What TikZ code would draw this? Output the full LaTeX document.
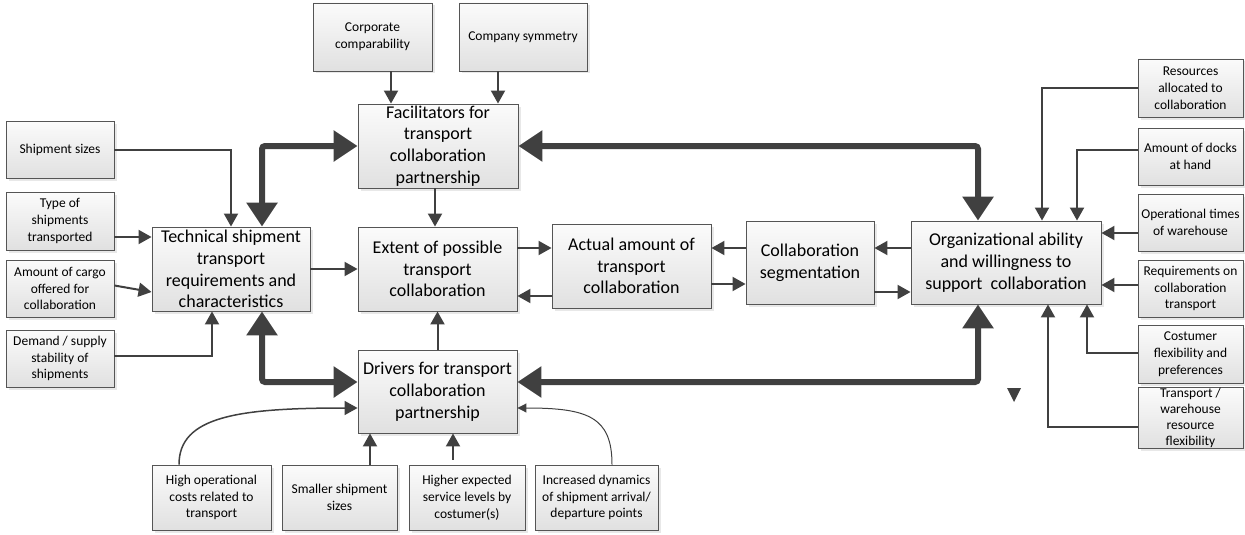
\documentclass[tikz,border=0pt]{standalone}
\usepackage{fontspec}
\setmainfont{Carlito}
\usetikzlibrary{arrows.meta,shadows}
\definecolor{ink}{HTML}{404040}
\definecolor{frame}{HTML}{555555}

\begin{document}
\begin{tikzpicture}[x=1pt,y=-1pt,
  box/.style={draw=frame, line width=0.9pt, top color=gray!3, bottom color=gray!24,
    align=center, inner sep=1pt,
    drop shadow={shadow xshift=2.5pt, shadow yshift=-2.5pt, fill=gray!35, opacity=0.5}},
  bigbox/.style={box, font=\fontsize{18}{21.8}\selectfont},
  smallbox/.style={box, font=\fontsize{13.5}{16.8}\selectfont},
  arr/.style={draw=ink, line width=2pt, -{Triangle[length=13pt,width=14pt]}},
  thk/.style={draw=ink, line width=6pt, rounded corners=3pt,
    {Triangle[length=24pt,width=30pt]}-{Triangle[length=24pt,width=30pt]}},
  thinarr/.style={draw=ink, line width=1pt, -{Triangle[length=9pt,width=9pt]}}]

\useasboundingbox (0,0) rectangle (1245,535);

% left inputs
\node[smallbox, minimum width=108pt, minimum height=57pt] (ship) at (60,149.5) {Shipment sizes};
\node[smallbox, minimum width=108pt, minimum height=58pt] (type) at (60,221) {Type of\\shipments\\transported};
\node[smallbox, minimum width=108pt, minimum height=57pt] (cargo) at (60,288.5) {Amount of cargo\\offered for\\collaboration};
\node[smallbox, minimum width=108pt, minimum height=57pt] (demand) at (60,358.5) {Demand / supply\\stability of\\shipments};

% top inputs
\node[smallbox, minimum width=119pt, minimum height=68pt] (corp) at (372.5,37) {Corporate\\comparability};
\node[smallbox, minimum width=128pt, minimum height=68pt] (comp) at (523,37) {Company symmetry};

% main blocks
\node[bigbox, minimum width=158pt, minimum height=84pt] (tech) at (231,269) {Technical shipment\\transport\\requirements and\\characteristics};
\node[bigbox, minimum width=160pt, minimum height=84pt] (fac) at (438,146) {Facilitators for\\transport\\collaboration\\partnership};
\node[bigbox, minimum width=159pt, minimum height=84pt] (ext) at (437.5,269) {Extent of possible\\transport\\collaboration};
\node[bigbox, minimum width=159pt, minimum height=84pt] (act) at (631.5,266) {Actual amount of\\transport\\collaboration};
\node[bigbox, minimum width=128pt, minimum height=83pt] (seg) at (810,262.5) {Collaboration\\segmentation};
\node[bigbox, minimum width=190pt, minimum height=83pt] (org) at (1006,262.5) {Organizational ability\\and willingness to\\support~~collaboration};
\node[bigbox, minimum width=159pt, minimum height=83pt] (drv) at (437.5,391.5) {Drivers for transport\\collaboration\\partnership};

% bottom inputs
\node[smallbox, minimum width=119pt, minimum height=65pt] (high) at (211.5,497.5) {High operational\\costs related to\\transport};
\node[smallbox, minimum width=115pt, minimum height=65pt] (smaller) at (339.5,497.5) {Smaller shipment\\sizes};
\node[smallbox, minimum width=116pt, minimum height=65pt] (higher) at (467,497.5) {Higher expected\\service levels by\\costumer(s)};
\node[smallbox, minimum width=123pt, minimum height=65pt] (incr) at (596.5,497.5) {Increased dynamics\\of shipment arrival/\\departure points};

% right inputs
\node[smallbox, minimum width=105pt, minimum height=58pt] (res) at (1190.5,88) {Resources\\allocated to\\collaboration};
\node[smallbox, minimum width=105pt, minimum height=57pt] (docks) at (1190.5,156.5) {Amount of docks\\at hand};
\node[smallbox, minimum width=105pt, minimum height=57pt] (optime) at (1190.5,222.5) {Operational times\\of warehouse};
\node[smallbox, minimum width=105pt, minimum height=57pt] (req) at (1190.5,288.5) {Requirements on\\collaboration\\transport};
\node[smallbox, minimum width=105pt, minimum height=58pt] (cust) at (1190.5,354) {Costumer\\flexibility and\\preferences};
\node[smallbox, minimum width=105pt, minimum height=58pt, font=\fontsize{13.5}{16}\selectfont] (trans) at (1190.5,418) {Transport /\\warehouse\\resource\\flexibility};

% left inputs into the technical block
\draw[arr] (ship.east) -| (tech.north);
\draw[arr] ([yshift=-16pt]type.east) -- ([yshift=-16pt]type.east -| tech.west);
\draw[arr] ([yshift=3pt]cargo.east) -- ([yshift=-23pt]tech.west);
\draw[arr] ([yshift=2.5pt]demand.east) -| ([xshift=-19pt]tech.south);

% top inputs into the facilitators
\draw[arr] ([xshift=18.5pt]corp.south) -- ([xshift=18.5pt]corp.south |- fac.north);
\draw[arr] ([xshift=-25pt]comp.south) -- ([xshift=-25pt]comp.south |- fac.north);

% thick two-way links
\draw[thk] ([xshift=31pt]tech.north) |- (fac.west);
\draw[thk] ([xshift=31pt]tech.south) |- ([yshift=9.5pt]drv.west);
\draw[thk] (fac.east) -| ([xshift=-28pt]org.north);
\draw[thk] ([yshift=9.5pt]drv.east) -| ([xshift=-28pt]org.south);

% central chain
\draw[arr] (tech.east) -- (ext.west);
\draw[arr] ([xshift=-3pt]fac.south) -- ([xshift=-3pt]fac.south |- ext.north);
\draw[arr] (drv.north) -- (ext.south);
\draw[arr] ([yshift=21pt]ext.east) -- ([yshift=21pt]ext.east -| act.west);
\draw[arr] ([yshift=-30pt]act.west) -- ([yshift=-30pt]act.west -| ext.east);
\draw[arr] ([yshift=14.5pt]seg.west) -- ([yshift=14.5pt]seg.west -| act.east);
\draw[arr] ([yshift=-18pt]act.east) -- ([yshift=-18pt]act.east -| seg.west);
\draw[arr] ([yshift=14.5pt]org.west) -- ([yshift=14.5pt]org.west -| seg.east);
\draw[arr] ([yshift=-29.5pt]seg.east) -- ([yshift=-29.5pt]seg.east -| org.west);

% right inputs into the organizational block
\draw[arr] (res.west) -| ([xshift=36pt]org.north);
\draw[arr] ([yshift=6.5pt]docks.west) -| ([xshift=71pt]org.north);
\draw[arr] ([yshift=-10.5pt]optime.west) -- ([yshift=-10.5pt]optime.west -| org.east);
\draw[arr] ([yshift=3.5pt]req.west) -- ([yshift=3.5pt]req.west -| org.east);
\draw[arr] ([yshift=1pt]cust.west) -| ([xshift=81pt]org.south);
\draw[arr] ([yshift=-9pt]trans.west) -| ([xshift=42pt]org.south);

% bottom inputs into the drivers
\draw[arr, line width=1.5pt] ([xshift=-32.5pt]high.north) .. controls +(0,-48) and +(-120,0) .. ([yshift=-16.5pt]drv.west);
\draw[arr] ([xshift=30.5pt]smaller.north) -- ([xshift=30.5pt]smaller.north |- drv.south);
\draw[arr] ([xshift=-14pt,yshift=5pt]higher.north) -- ([xshift=-14pt]higher.north |- drv.south);
\draw[thinarr] ([xshift=15.5pt]incr.north) .. controls +(0,-48) and +(70,0) .. ([yshift=-16.5pt]drv.east);

% loose arrowhead
\fill[ink] (1007,388) -- (1021,388) -- (1014,402) -- cycle;

\end{tikzpicture}
\end{document}
